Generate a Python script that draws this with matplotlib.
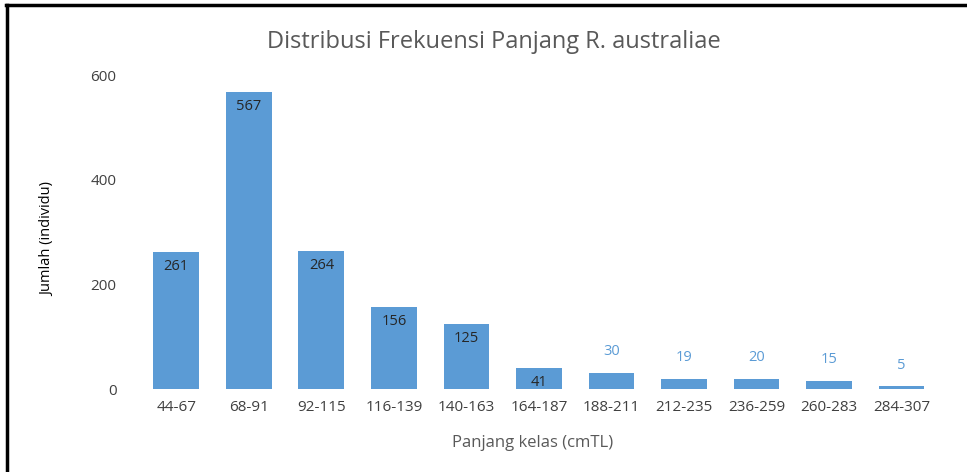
import matplotlib
matplotlib.use('Agg')
import matplotlib.pyplot as plt
from matplotlib.lines import Line2D

plt.rcParams['font.family'] = ['Open Sans', 'DejaVu Sans']

# data
kelas = ['44-67', '68-91', '92-115', '116-139', '140-163', '164-187',
         '188-211', '212-235', '236-259', '260-283', '284-307']
jumlah = [261, 567, 264, 156, 125, 41, 30, 19, 20, 15, 5]

biru = '#5B9BD5'
abu = '#595959'

fig = plt.figure(figsize=(9.67, 4.72), dpi=100)
ax = fig.add_axes([0.1448, 0.1758, 0.825, 0.665])

x = range(len(kelas))
bars = ax.bar(x, jumlah, width=0.63, color=biru, zorder=2)

ax.set_xlim(-0.5, len(kelas) - 0.5)
ax.set_ylim(0, 600)
ax.set_yticks([0, 200, 400, 600])
ax.set_xticks(list(x))
ax.set_xticklabels(kelas)

for s in ax.spines.values():
    s.set_visible(False)
ax.tick_params(axis='both', length=0, labelsize=11, colors=abu)
ax.tick_params(axis='y', pad=17, labelcolor='#404040')
ax.tick_params(axis='x', pad=8, labelcolor='#404040')

# labels data
for b, v in zip(bars, jumlah):
    cx = b.get_x() + b.get_width() / 2
    if v > 35:
        ax.annotate(str(v), (cx, v), xytext=(0, -5), textcoords='offset points',
                    ha='center', va='top', fontsize=10.5, color='#262626')
    else:
        ax.annotate(str(v), (cx, v), xytext=(0, 10), textcoords='offset points',
                    ha='center', va='bottom', fontsize=10.5, color=biru)

fig.text(0.511, 0.911, 'Distribusi Frekuensi Panjang R. australiae',
         ha='center', va='center', fontsize=17, color=abu)
fig.text(0.551, 0.062, 'Panjang kelas (cmTL)', ha='center', va='center',
         fontsize=12, color=abu)
fig.text(0.049, 0.494, 'Jumlah (individu)', ha='center', va='center',
         rotation=90, fontsize=10.5, color='black')

# bingkai hitam kiri & atas
fig.add_artist(Line2D([0.007, 0.007], [0.0, 0.990], transform=fig.transFigure,
                      color='black', lw=2.5))
fig.add_artist(Line2D([0.006, 0.999], [0.990, 0.990], transform=fig.transFigure,
                      color='black', lw=2.5))

fig.savefig('out.png', dpi=100)
